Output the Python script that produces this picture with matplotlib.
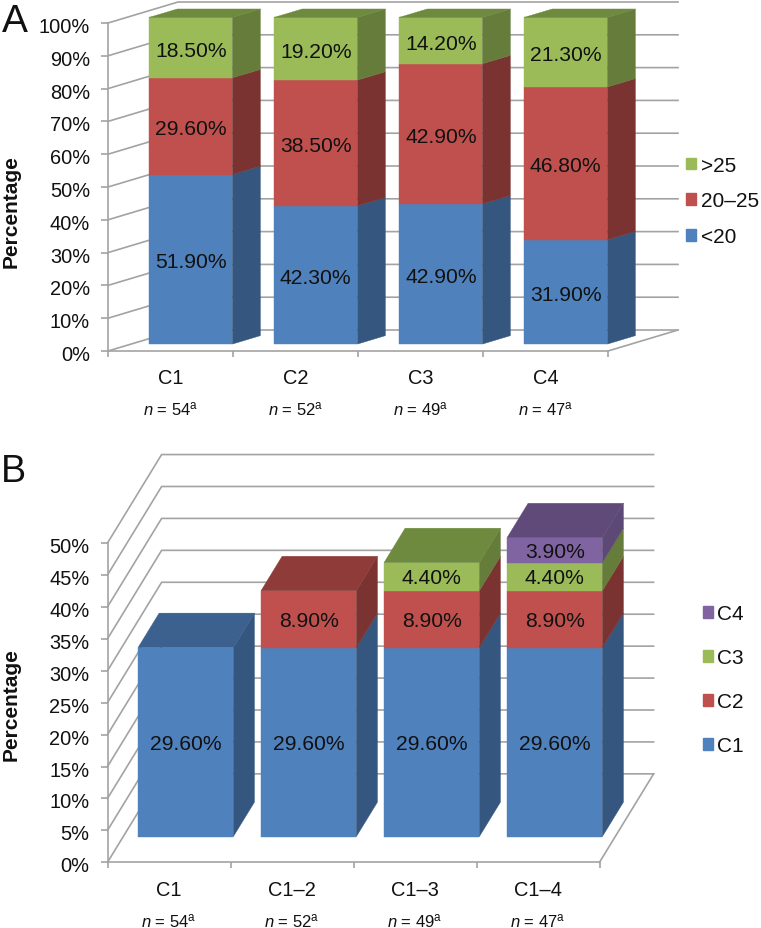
import matplotlib
matplotlib.use("Agg")
import matplotlib.pyplot as plt
from matplotlib.patches import Polygon, Patch
from matplotlib.ticker import FuncFormatter
from matplotlib.transforms import ScaledTranslation

plt.rcParams['font.family'] = ['Liberation Sans', 'DejaVu Sans']
plt.rcParams['mathtext.fontset'] = 'custom'
plt.rcParams['mathtext.rm'] = 'Liberation Sans'
plt.rcParams['mathtext.it'] = 'Liberation Sans:italic'
plt.rcParams['mathtext.bf'] = 'Liberation Sans:bold'

W, H = 761, 929
GRAY = '#a3a3a3'
TXT = '#111111'

# colours: front, side, top
BLUE = ('#4f81bd', '#34567f', '#3c618f')
RED = ('#c0504d', '#7b3331', '#8e3b39')
GREEN = ('#9bbb59', '#667c3b', '#6e8a3e')
PURPLE = ('#8064a2', '#5c4975', '#5f4a7a')

# panel A
cats_a = ['C1', 'C2', 'C3', 'C4']
ns_a = [54, 52, 49, 47]
lt20 = [51.9, 42.3, 42.9, 31.9]
mid = [29.6, 38.5, 42.9, 46.8]
gt25 = [18.5, 19.2, 14.2, 21.3]
ticks_a = [0, 10, 20, 30, 40, 50, 60, 70, 80, 90, 100]

# panel B
cats_b = ['C1', 'C1\u20132', 'C1\u20133', 'C1\u20134']
ns_b = [54, 52, 49, 47]
c1 = [29.6, 29.6, 29.6, 29.6]
c2 = [0, 8.9, 8.9, 8.9]
c3 = [0, 0, 4.4, 4.4]
c4 = [0, 0, 0, 3.9]
ticks_b = [0, 5, 10, 15, 20, 25, 30, 35, 40, 45, 50]


def make_axes(left, right, top, bottom):
    return fig.add_axes([left / W, 1 - bottom / H, (right - left) / W, (bottom - top) / H])


def draw_panel(ax, cats, ns, series, colors, ticks, dx, dy, bar_left, bar_w, front, depth, shrink, label_shift):
    n = len(cats)
    ax.set_xlim(0, n)
    ax.set_ylim(ticks[0], ticks[-1])
    ax.patch.set_visible(False)
    for s in ['top', 'right']:
        ax.spines[s].set_visible(False)
    for s in ['left', 'bottom']:
        ax.spines[s].set_color(GRAY)
        ax.spines[s].set_linewidth(1.2)

    ax.set_yticks(ticks)
    ax.yaxis.set_major_formatter(FuncFormatter(lambda v, p: '%d%%' % v))
    ax.tick_params(axis='y', length=5, width=1.2, color=GRAY, pad=8, labelsize=14.4, labelcolor=TXT)
    # labels sit a little under their ticks in the original
    nudge = ScaledTranslation(0, -1.5 / 100, fig.dpi_scale_trans)
    for lbl in ax.get_yticklabels():
        lbl.set_transform(lbl.get_transform() + nudge)
    ax.set_xticks(range(n + 1))
    ax.set_xticklabels([])
    ax.tick_params(axis='x', which='major', length=4, width=1.2, color=GRAY)
    ax.set_xticks([i + 0.5 for i in range(n)], labels=cats, minor=True)
    ax.tick_params(axis='x', which='minor', length=0, pad=12.5, labelsize=14.4, labelcolor=TXT)

    # walls
    for v in ticks:
        ax.plot([0, dx, n + dx], [v, v + dy, v + dy], color=GRAY, lw=1.2, clip_on=False, zorder=1)
    ax.plot([n, n + dx], [0, dy], color=GRAY, lw=1.2, clip_on=False, zorder=1)

    # bars
    base_y = front * dy
    for i in range(n):
        x0 = i + bar_left
        x1 = x0 + bar_w
        sx = depth * dx
        sy = depth * dy
        bottom = base_y
        last = None
        for vals, col in zip(series, colors):
            v = vals[i] * shrink
            if vals[i] <= 0:
                continue
            t = bottom + v
            ax.add_patch(Polygon([(x0, bottom), (x1, bottom), (x1, t), (x0, t)], fc=col[0], ec=col[0], lw=0.3, clip_on=False, zorder=3))
            ax.add_patch(Polygon([(x1, bottom), (x1 + sx, bottom + sy), (x1 + sx, t + sy), (x1, t)], fc=col[1], ec=col[1], lw=0.3, clip_on=False, zorder=3))
            ax.annotate('%.2f%%' % vals[i], xy=((x0 + x1) / 2, bottom + v / 2), xytext=(0, label_shift), textcoords='offset points',
                        ha='center', va='center', fontsize=15.2, color=TXT, zorder=5)
            bottom = t
            last = col
        ax.add_patch(Polygon([(x0, bottom), (x1, bottom), (x1 + sx, bottom + sy), (x0 + sx, bottom + sy)], fc=last[2], ec=last[2], lw=0.3, clip_on=False, zorder=4))

    for i in range(n):
        ax.annotate(r'$\mathit{n}$ = %d$^{\mathrm{a}}$' % ns[i], xy=(i + 0.5, 0), xycoords=('data', 'axes fraction'),
                    xytext=(0, -41.5), textcoords='offset points', ha='center', va='center', fontsize=12, color=TXT)


fig = plt.figure(figsize=(W / 100, H / 100), dpi=100)

ax_a = make_axes(108, 608, 24, 352)
colors_a = [BLUE, RED, GREEN]
draw_panel(ax_a, cats_a, ns_a, [lt20, mid, gt25], colors_a, ticks_a,
           0.56, 6.4, 0.33, 0.665, 0.33, 0.4, 0.996, -1.8)

ax_b = make_axes(107.5, 599.5, 544, 863.3)
colors_b = [BLUE, RED, GREEN, PURPLE]
draw_panel(ax_b, cats_b, ns_b, [c1, c2, c3, c4], colors_b, ticks_b,
           0.44, 13.85, 0.248, 0.775, 0.29, 0.39, 1.0, -0.7)

# legends, top entry first
h_a = [Patch(fc=c[0], ec=c[0]) for c in colors_a[::-1]]
fig.legend(h_a, ['>25', '20\u201325', '<20'], loc='center left', bbox_to_anchor=(686 / W, 1 - 202 / H),
           frameon=False, fontsize=15, borderpad=0, borderaxespad=0, handlelength=0.5, handleheight=0.5,
           handletextpad=0.22, labelspacing=0.8, labelcolor=TXT)
h_b = [Patch(fc=c[0], ec=c[0]) for c in colors_b[::-1]]
fig.legend(h_b, ['C4', 'C3', 'C2', 'C1'], loc='center left', bbox_to_anchor=(702.5 / W, 1 - 681 / H),
           frameon=False, fontsize=15, borderpad=0, borderaxespad=0, handlelength=0.5, handleheight=0.5,
           handletextpad=0.22, labelspacing=1.2, labelcolor=TXT)

fig.text(11 / W, 1 - 212 / H, 'Percentage', rotation=90, ha='center', va='center', fontsize=15, fontweight='bold', color=TXT)
fig.text(11 / W, 1 - 705 / H, 'Percentage', rotation=90, ha='center', va='center', fontsize=15, fontweight='bold', color=TXT)
fig.text(2 / W, 1 - 32 / H, 'A', ha='left', va='baseline', fontsize=28, color=TXT)
fig.text(1 / W, 1 - 482 / H, 'B', ha='left', va='baseline', fontsize=27, color=TXT)

fig.savefig('out.png', dpi=100)
